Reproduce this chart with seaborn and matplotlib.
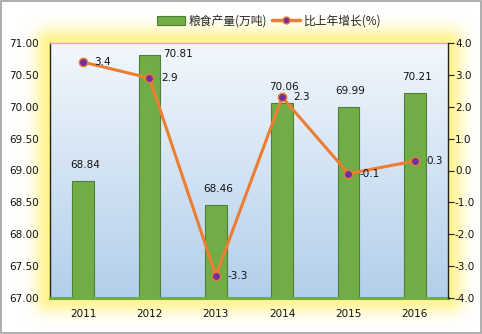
import numpy as np
import pandas as pd
import matplotlib
matplotlib.use("Agg")
import matplotlib.pyplot as plt
import seaborn as sns
from matplotlib.patches import Rectangle
from matplotlib.lines import Line2D

years = ["2011", "2012", "2013", "2014", "2015", "2016"]
output = [68.84, 70.81, 68.46, 70.06, 69.99, 70.21]
growth = [3.4, 2.9, -3.3, 2.3, -0.1, 0.3]
bar_label = "粮食产量(万吨)"
line_label = "比上年增长(%)"
left_ticks = [67.0, 67.5, 68.0, 68.5, 69.0, 69.5, 70.0, 70.5, 71.0]
right_ticks = [-4.0, -3.0, -2.0, -1.0, 0.0, 1.0, 2.0, 3.0, 4.0]

sns.set_theme(style="white")
plt.rcParams['font.family'] = ['DejaVu Sans', 'Noto Sans CJK SC']

W, H = 482, 334
fig = plt.figure(figsize=(W / 100, H / 100), dpi=100)
fig.patch.set_facecolor("white")

L, R, T, B = 50, 448, 43, 298
# glow background
bg = fig.add_axes([0, 0, 1, 1])
bg.set_axis_off()
yy, xx = np.mgrid[0:H, 0:W] + 0.5
dx = np.maximum(np.maximum(L - xx, xx - R), 0)
dy = np.maximum(np.maximum(T - yy, yy - B), 0)
d = np.hypot(dx, dy)
alpha = np.clip(np.exp(-(d / 15.0) ** 2), 0, 1) * 0.9
img = np.zeros((H, W, 4))
img[..., 0] = 1.0
img[..., 1] = 0.95
img[..., 2] = 0.50
img[..., 3] = alpha
bg.imshow(img, extent=[0, W, H, 0], aspect="auto", interpolation="bilinear")
bg.set_xlim(0, W)
bg.set_ylim(H, 0)
bg.add_patch(Rectangle((1, 1), W - 2.5, H - 2.5, fill=False, edgecolor="#a0a0a0", lw=1.2))

ax = fig.add_axes([L / W, 1 - B / H, (R - L) / W, (B - T) / H])
ax.set_zorder(1)
# gradient plot background
grad = np.linspace(0, 1, 256)[:, None]
top_c = np.array([0.95, 0.97, 0.99])
bot_c = np.array([0.70, 0.81, 0.92])
gimg = top_c * (1 - grad[..., None]) + bot_c * grad[..., None]
gimg = np.repeat(gimg, 2, axis=1)

df = pd.DataFrame({"year": years, "output": output})
sns.barplot(data=df, x="year", y="output", ax=ax, color="#70ad47",
            width=0.33, edgecolor="#507e32", linewidth=0.8, saturation=1, zorder=2)
ax.imshow(gimg, extent=[-0.5, 5.5, 67, 71], aspect="auto", zorder=0)
ax.set_xlim(-0.5, 5.5)
ax.set_ylim(67, 71)
ax.set_yticks(left_ticks)
ax.set_yticklabels([f"{v:.2f}" for v in left_ticks], fontsize=7.5, color="#111111")
ax.set_xlabel("")
ax.set_ylabel("")
ax.tick_params(axis="x", length=0, pad=8, labelsize=7.5, colors="#111111")
ax.tick_params(axis="y", length=0, pad=8)
ax.grid(False)
for i, v in enumerate(output):
    if i == 1:
        ax.text(i + 0.2, v + 0.02, f"{v:.2f}", ha="left", va="center", fontsize=7.5, color="#111111", zorder=5)
    else:
        ax.text(i + 0.03, v + 0.25, f"{v:.2f}", ha="center", va="center", fontsize=7.5, color="#111111", zorder=5)

ax.spines["left"].set_color("#222222")
ax.spines["left"].set_linewidth(1.0)
ax.spines["top"].set_color("#f0a0d8")
ax.spines["top"].set_linewidth(1.0)
ax.spines["bottom"].set_color("#70ad47")
ax.spines["bottom"].set_linewidth(2.2)
ax.spines["right"].set_visible(False)

ax2 = ax.twinx()
ax2.set_zorder(2)
xs = np.arange(len(years))
sns.lineplot(x=xs, y=growth, ax=ax2, color="#ed7d31", linewidth=2.2,
             marker="o", markersize=6, markerfacecolor="#7030a0",
             markeredgecolor="#ed7d31", markeredgewidth=1.0, zorder=4)
ax2.set_ylim(-4, 4)
ax2.set_xlim(-0.5, 5.5)
ax2.set_yticks(right_ticks)
ax2.set_yticklabels([f"{v:.1f}" for v in right_ticks], fontsize=7.5, color="#111111")
ax2.tick_params(axis="y", direction="out", length=4, width=0.8, color="#222222", pad=1, right=True)
ax2.grid(False)
for s in ["left", "top", "bottom"]:
    ax2.spines[s].set_visible(False)
ax2.spines["right"].set_color("#222222")
ax2.spines["right"].set_linewidth(1.0)
for i, v in enumerate(growth):
    ax2.text(i + 0.17, v, f"{v:.1f}", ha="left", va="center", fontsize=7.5, color="#111111", zorder=5)

handles = [Rectangle((0, 0), 1, 1, facecolor="#70ad47", edgecolor="#507e32", lw=0.8),
           Line2D([0], [0], color="#ed7d31", lw=2.5, marker="o", markersize=5,
                  markerfacecolor="#7030a0", markeredgecolor="#ed7d31")]
fig.legend(handles, [bar_label, line_label], loc="center", bbox_to_anchor=(0.558, 0.937),
           ncol=2, frameon=False, handlelength=2.4, handleheight=0.8, handletextpad=0.3,
           columnspacing=0.4, prop={"family": ["Noto Sans CJK SC", "DejaVu Sans"], "size": 8.5})

fig.savefig("out.png", dpi=100)
